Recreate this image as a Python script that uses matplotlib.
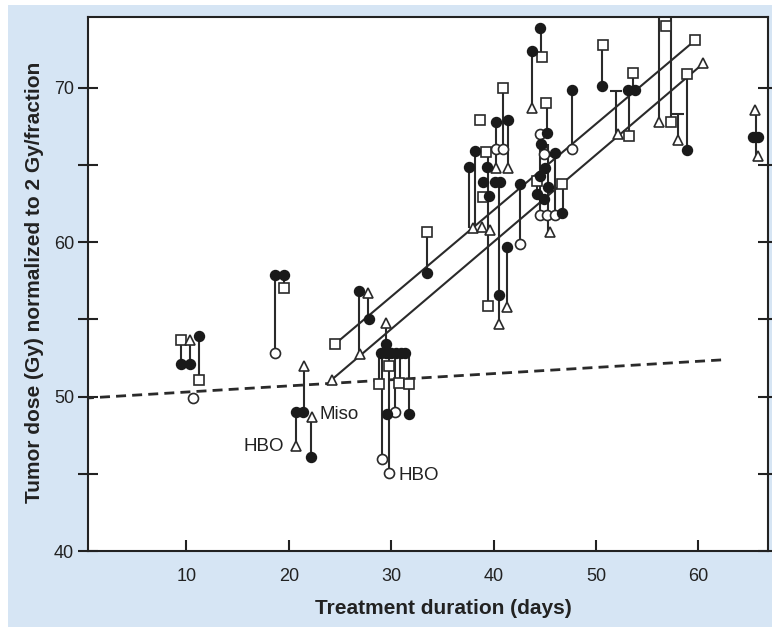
import matplotlib
matplotlib.use("Agg")
import matplotlib.pyplot as plt
from matplotlib.patches import Rectangle

# ---------------- data ----------------
# filled circles
fc_x = [9.5, 10.4, 11.2, 18.7, 19.5, 20.7, 21.4, 22.2, 26.9, 27.8, 33.5,
        29.0, 29.5, 30.0, 30.5, 31.0, 31.4, 29.5, 29.6, 31.7,
        37.6, 38.2, 40.2, 41.4, 39.0, 39.6, 40.1, 40.6, 39.4,
        42.6, 41.3, 40.5,
        44.5, 43.8, 45.2, 44.6, 47.7, 50.6,
        46.0, 45.0, 44.2, 44.9, 45.3, 46.7, 44.5,
        53.1, 53.8, 58.9, 65.3, 65.8]
fc_y = [52.1, 52.1, 53.9, 57.9, 57.9, 49.0, 49.0, 46.1, 56.85, 55.0, 58.0,
        52.85, 52.85, 52.85, 52.85, 52.85, 52.85, 53.4, 48.9, 48.9,
        64.9, 65.9, 67.8, 67.9, 63.9, 63.0, 63.9, 63.9, 64.9,
        63.8, 59.7, 56.6,
        73.9, 72.4, 67.1, 66.4, 69.9, 70.1,
        65.8, 64.8, 63.1, 62.8, 63.6, 61.9, 64.3,
        69.85, 69.85, 66.0, 66.8, 66.8]

# open squares
sq_x = [9.5, 11.2, 19.5, 24.5, 33.5, 28.8, 29.8, 30.8, 31.7,
        38.7, 39.3, 39.0, 39.5, 40.9,
        44.7, 45.1, 44.2, 46.7,
        50.7, 53.6, 53.2, 56.8, 57.3, 59.7, 58.9]
sq_y = [53.7, 51.1, 57.05, 53.4, 60.7, 50.8, 52.0, 50.9, 50.8,
        67.9, 65.85, 62.95, 55.9, 70.0,
        72.0, 69.0, 64.0, 63.8,
        72.8, 71.0, 66.9, 74.0, 67.8, 73.1, 70.9]

# open triangles
tri_x = [10.4, 21.5, 22.3, 20.7, 27.7, 27.0, 24.2, 29.5,
         40.2, 41.4, 38.0, 38.9, 39.7, 41.3, 40.5,
         43.8, 45.5, 45.1, 52.2, 56.2, 60.5, 58.0, 65.5, 65.8]
tri_y = [53.7, 52.0, 48.7, 46.8, 56.7, 52.75, 51.1, 54.8,
         64.8, 64.8, 60.9, 61.0, 60.8, 55.8, 54.7,
         68.7, 60.7, 65.9, 67.0, 67.8, 71.6, 66.6, 68.6, 65.6]

# open circles
oc_x = [10.7, 18.7, 29.1, 29.8, 30.4, 40.2, 40.9, 42.6, 44.5, 47.7, 44.9,
        44.5, 45.2, 46.0]
oc_y = [49.9, 52.85, 45.95, 45.05, 49.0, 66.05, 66.05, 59.9, 67.0, 66.05, 65.7,
        61.75, 61.75, 61.75]

# vertical connectors between paired estimates
seg_x = [9.5, 10.4, 11.2, 18.7, 19.5, 20.7, 21.5, 22.2, 26.9, 27.7, 33.5,
         29.1, 29.8, 30.4, 28.8, 31.7, 30.9, 29.5,
         37.6, 38.2, 39.5, 40.5, 40.2, 41.4, 40.9, 41.3, 42.6,
         44.6, 43.8, 45.2, 47.7, 50.6, 44.5, 45.3, 46.0, 46.8, 44.2,
         53.6, 52.0, 53.2, 56.2, 57.3, 58.0, 58.9, 65.6]
seg_lo = [52.1, 52.1, 51.1, 52.85, 57.05, 46.8, 49.0, 46.1, 52.75, 55.0, 58.0,
          45.95, 45.05, 49.0, 50.8, 48.9, 50.9, 52.9,
          60.9, 61.0, 55.9, 54.7, 64.8, 64.8, 66.0, 55.8, 59.9,
          72.0, 68.7, 67.1, 66.05, 70.1, 61.75, 60.7, 61.75, 61.9, 62.8,
          69.85, 67.0, 66.9, 67.8, 67.8, 66.6, 66.0, 65.6]
seg_hi = [53.7, 53.7, 53.9, 57.9, 57.9, 49.0, 52.0, 48.7, 56.85, 56.7, 60.7,
          53.0, 53.0, 52.9, 52.9, 52.9, 52.9, 54.8,
          64.9, 65.9, 65.9, 64.0, 67.8, 67.9, 70.0, 59.7, 63.8,
          73.9, 72.4, 69.0, 69.9, 72.8, 67.0, 66.4, 65.8, 63.8, 64.0,
          71.0, 69.8, 69.85, 74.6, 74.6, 68.3, 70.9, 68.6]

# small horizontal caps
cap_x = [52.0, 58.0]
cap_y = [69.8, 68.3]

# fitted lines (end points) and the reference dashed line
upper_x = [24.5, 59.7]
upper_y = [53.4, 73.1]
lower_x = [24.2, 60.5]
lower_y = [51.1, 71.6]
dash_x = [0.0, 62.7]
dash_y = [49.9, 52.4]

# annotations
ann_text = ["HBO", "Miso", "HBO"]
ann_x = [19.5, 23.0, 30.7]
ann_y = [46.8, 48.85, 44.9]
ann_ha = ["right", "left", "left"]

xticks = [10, 20, 30, 40, 50, 60]
yticks = [40, 50, 60, 70]
yminor = [45, 55, 65]

# ---------------- drawing ----------------
plt.rcParams['font.family'] = ['Liberation Sans', 'DejaVu Sans']
fig = plt.figure(figsize=(7.72, 6.27), dpi=100)
fig.patch.set_facecolor('white')
fig.patches.append(Rectangle((8 / 772, 0), 1, 622 / 627, transform=fig.transFigure,
                             facecolor='#d6e5f4', edgecolor='none', zorder=-10))

ax = fig.add_axes([88 / 772, 76 / 627, 680 / 772, 534 / 627])
ax.set_zorder(1)
ax.set_facecolor('white')
ax.set_xlim(0.4, 66.8)
ax.set_ylim(40, 74.6)

lc = '#2a2a2a'
ax.vlines(seg_x, seg_lo, seg_hi, colors=lc, lw=1.5, zorder=2)
ax.plot(cap_x, cap_y, ls='none', marker='_', ms=9, mew=1.5, color=lc, zorder=2)
ax.plot(upper_x, upper_y, color=lc, lw=1.5, zorder=2)
ax.plot(lower_x, lower_y, color=lc, lw=1.5, zorder=2)
ax.plot(dash_x, dash_y, color=lc, lw=2.0, dashes=(3.6, 2.2), zorder=2)

ms = 7.2
ax.plot(sq_x, sq_y, ls='none', marker='s', ms=ms - 0.5, mfc='white', mec=lc, mew=1.2, zorder=3)
ax.plot(tri_x, tri_y, ls='none', marker='^', ms=ms + 0.6, mfc='white', mec=lc, mew=1.2, zorder=3)
ax.plot(oc_x, oc_y, ls='none', marker='o', ms=ms, mfc='white', mec=lc, mew=1.2, zorder=3)
ax.plot(fc_x, fc_y, ls='none', marker='o', ms=ms, mfc='#1a1a1a', mec='#1a1a1a', mew=1.0, zorder=4)

for t, x, y, ha in zip(ann_text, ann_x, ann_y, ann_ha):
    ax.text(x, y, t, ha=ha, va='center', fontsize=13.5, color='#222222', zorder=5)

for s in ax.spines.values():
    s.set_linewidth(1.5)
    s.set_color('#222222')

ax.set_xticks(xticks)
ax.set_yticks(yticks)
ax.set_yticks(yminor, minor=True)
ax.tick_params(axis='x', direction='in', length=8, width=1.5, labelsize=13,
               pad=12, colors='#222222')
ax.tick_params(axis='y', which='both', direction='inout', length=14, width=1.5,
               labelsize=13, right=True, pad=3, colors='#222222')

fig.text(443 / 772, 1 - 608 / 627, "Treatment duration (days)", ha='center', va='center',
         fontsize=15, fontweight='bold', color='#222222')
fig.text(35 / 772, 1 - 282 / 627, "Tumor dose (Gy) normalized to 2 Gy/fraction",
         ha='center', va='center', rotation=90, fontsize=15, fontweight='bold', color='#222222')

fig.savefig('out.png', dpi=100, facecolor=fig.get_facecolor())
